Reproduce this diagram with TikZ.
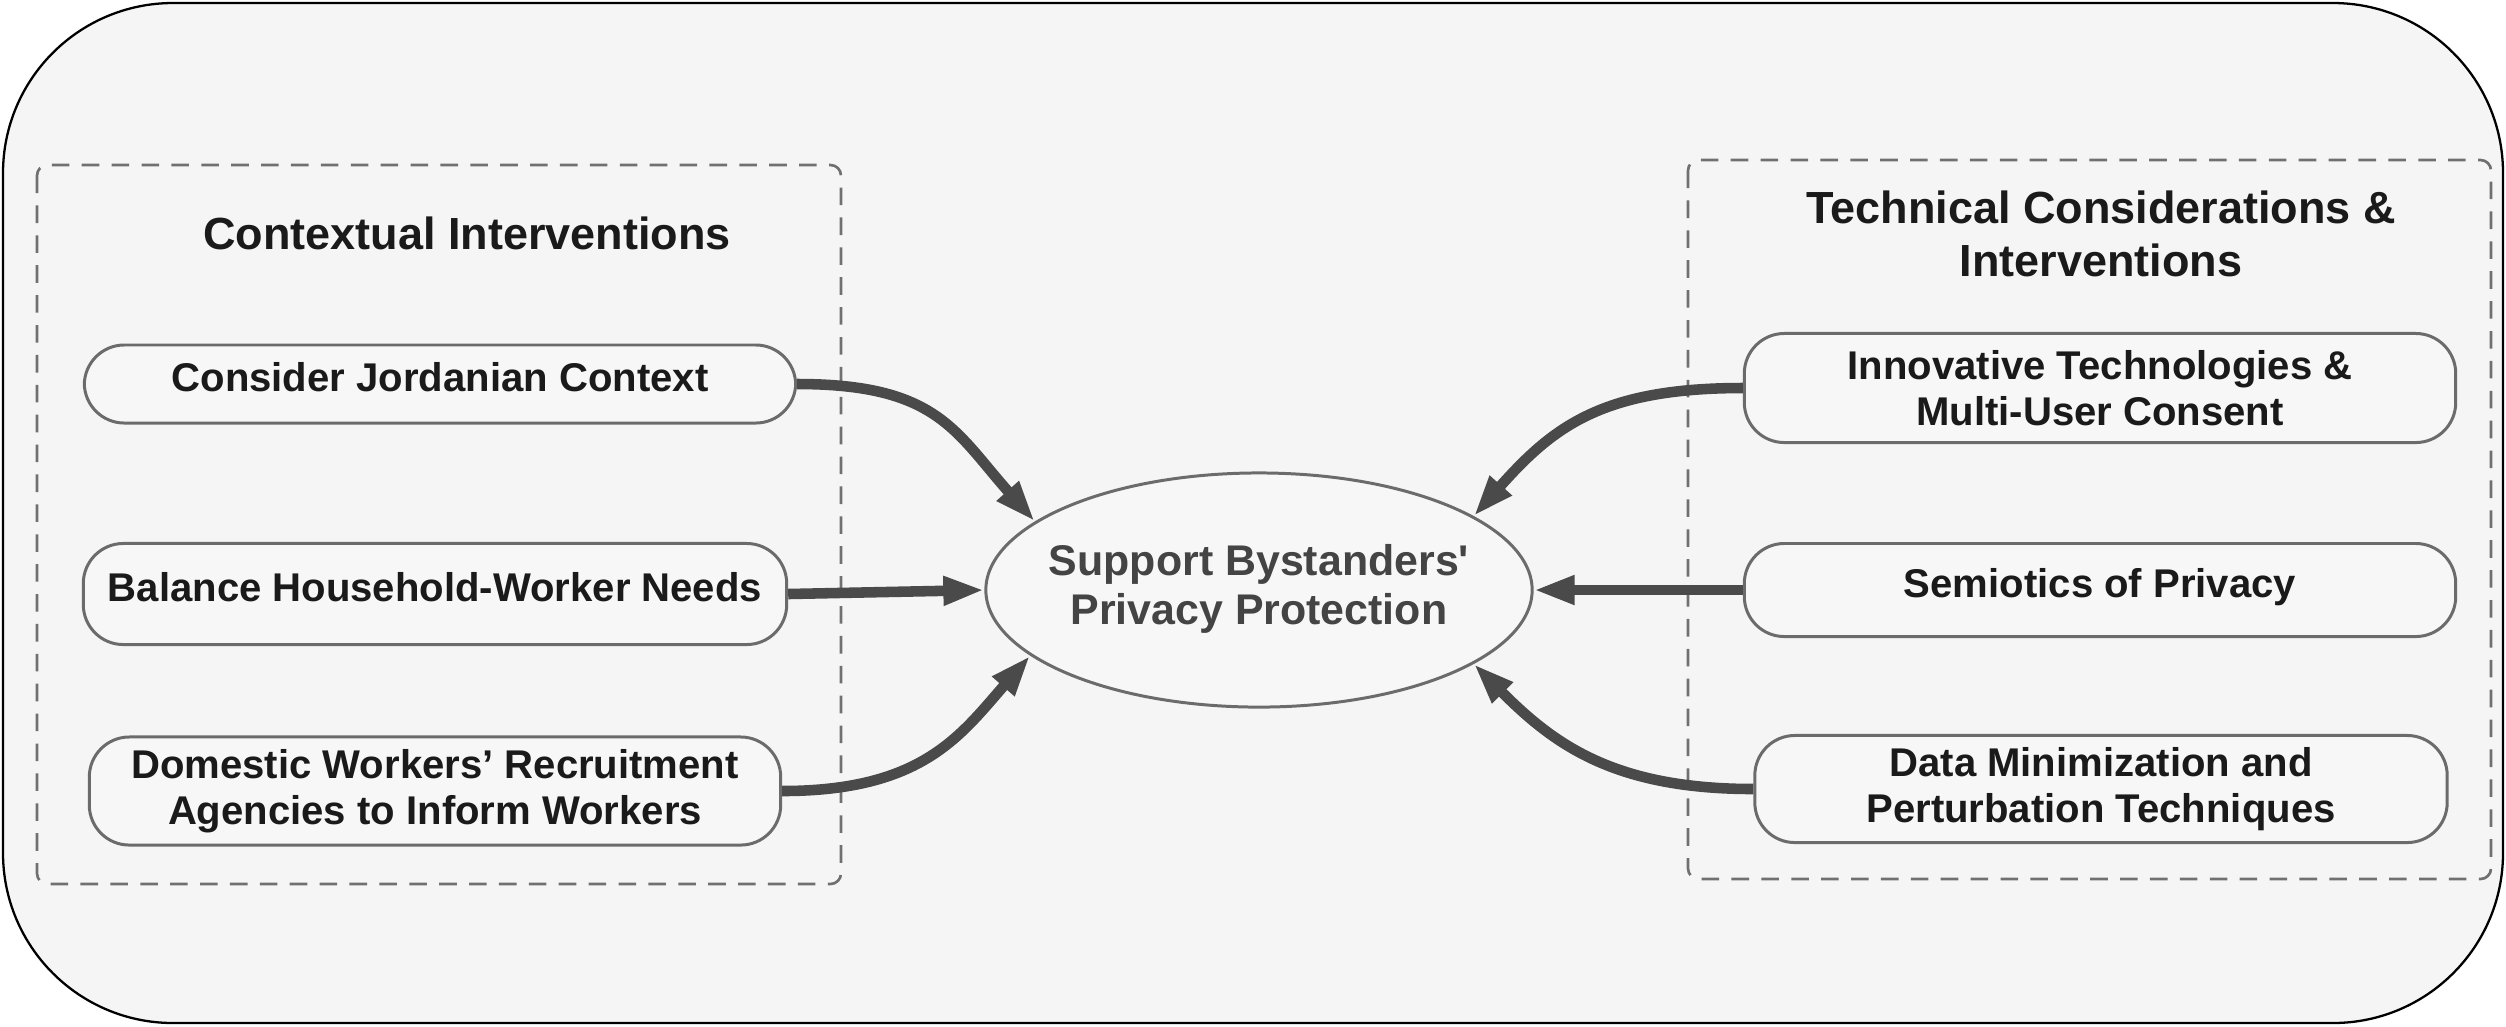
\documentclass[tikz,border=0pt]{standalone}
\usepackage{fontspec}
\setmainfont{Liberation Sans}[Ligatures=TeXOff]
\usetikzlibrary{arrows.meta,shapes.geometric}
\definecolor{bg}{HTML}{F5F5F5}
\definecolor{pillfill}{HTML}{F7F7F7}
\definecolor{arr}{HTML}{4A4A4A}
\definecolor{edge}{HTML}{6B6B6B}
\definecolor{dashc}{HTML}{707070}
\definecolor{txt}{HTML}{1A1A1A}
\definecolor{etxt}{HTML}{444444}
\begin{document}
\begin{tikzpicture}[x=0.01cm,y=-0.01cm,
  pill/.style={draw=edge, line width=0.85pt, fill=pillfill, rounded corners=0.4cm,
    align=center, text=txt, font=\fontsize{11.4}{13.1}\selectfont\bfseries, inner sep=0pt},
  onel/.style={text height=8pt, text depth=4pt},
  grp/.style={draw=dashc, line width=0.75pt, dash pattern=on 5pt off 3.5pt, rounded corners=3pt},
  ttl/.style={align=center, text=txt, font=\fontsize{12.8}{15}\selectfont\bfseries},
  conn/.style={draw=arr, line width=3pt, line cap=butt,
    -{Triangle[length=0.41cm,width=0.27cm]}},
]
\useasboundingbox (0,0) rectangle (2506,1026);
% outer frame
\path[fill=bg, draw=black, line width=0.65pt, rounded corners=1.7cm] (3,3) rectangle (2503,1023);
% group boxes
\path[grp] (37,165) rectangle (841,884);
\path[grp] (1688,160) rectangle (2491,879);
% titles
\node[ttl] (tl) at (467,233) {Contextual Interventions};
\node[ttl] (tr) at (2101,234) {Technical Considerations \&\\Interventions};
% centre ellipse
\node[ellipse, draw=edge, line width=0.85pt, fill=pillfill, minimum width=5.46cm, minimum height=2.34cm,
  inner sep=0pt, text=etxt, font=\fontsize{12.2}{14}\selectfont\bfseries] (ell) at (1259,590)
  {\makebox[0pt]{\raisebox{-3pt}{\begin{tabular}{@{}c@{}}Support Bystanders'\\Privacy Protection\end{tabular}}}};
% left pills
\node[pill, onel, minimum width=7.11cm, minimum height=0.78cm] (l1) at (440,384) {Consider Jordanian Context};
\node[pill, onel, minimum width=7.03cm, minimum height=1.01cm] (l2) at (435,594) {Balance Household-Worker Needs};
\node[pill, minimum width=6.91cm, minimum height=1.08cm] (l3) at (435,791) {Domestic Workers’ Recruitment\\Agencies to Inform Workers};
% right pills
\node[pill, minimum width=7.11cm, minimum height=1.09cm] (r1) at (2100,388) {Innovative Technologies \&\\Multi-User Consent};
\node[pill, onel, minimum width=7.11cm, minimum height=0.93cm] (r2) at (2100,590) {Semiotics of Privacy};
\node[pill, minimum width=6.92cm, minimum height=1.07cm] (r3) at (2101,789) {Data Minimization and\\Perturbation Techniques};
% connectors
\draw[conn] (l1.east) .. controls +(140,0) and +(-80,-90) .. (ell.163);
\draw[conn] (l2.east) -- (ell.west);
\draw[conn] (l3.east) .. controls +(140,0) and +(-70,80) .. (ell.196);
\draw[conn] (r1.west) .. controls +(-140,0) and +(80,-90) .. (ell.19);
\draw[conn] (r2.west) -- (ell.east);
\draw[conn] (r3.west) .. controls +(-140,0) and +(80,80) .. (ell.341);
\end{tikzpicture}
\end{document}
